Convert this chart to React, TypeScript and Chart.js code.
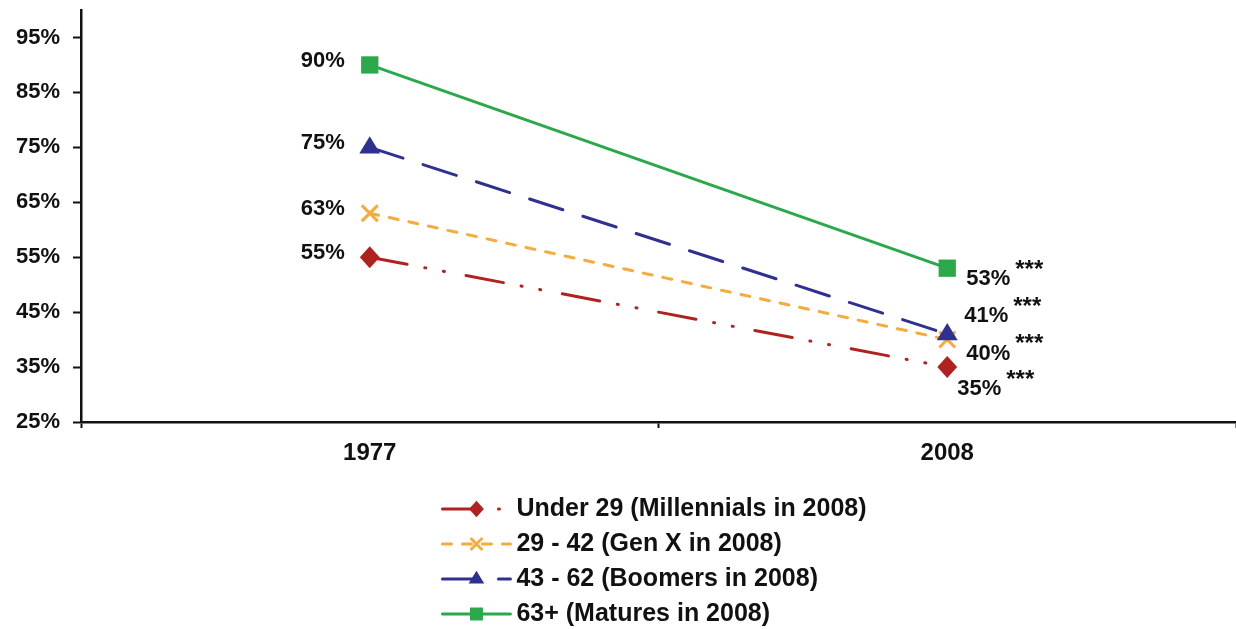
import React, { useEffect, useRef } from 'react';
import { Chart, registerables } from 'chart.js';

Chart.register(...registerables);

// ---- data ----
const categories = ['1977', '2008'];
const under29 = [55, 35];
const genX = [63, 40];
const boomers = [75, 41];
const matures = [90, 53];
const seriesNames = [
  'Under 29 (Millennials in 2008)',
  '29 - 42 (Gen X in 2008)',
  '43 - 62 (Boomers in 2008)',
  '63+ (Matures in 2008)',
];
const yTicks = [25, 35, 45, 55, 65, 75, 85, 95];
const yMin = 25;
const yMax = 100;
const significanceMark = '***';

// ---- styles ----
const FONT = "'Liberation Sans', Arial, Helvetica, sans-serif";
const colors = ['#B0221F', '#F5AC3C', '#2E3192', '#2BA84A'];
const dashes = [[38, 18, 1, 18, 1, 22], [9, 11], [35, 21], []];
const markers = ['diamond', 'x', 'triangle', 'square'];
const markerRadius = [11, 11, 11, 12];
// label offsets for the 2008 labels (dx, dy)
const endLabelOffset = [[10, 22], [19, 14], [17, -18], [19, 11]];

function drawMarker(ctx: CanvasRenderingContext2D, kind: string, x: number, y: number, r: number, color: string) {
  ctx.save();
  ctx.setLineDash([]);
  ctx.fillStyle = color;
  ctx.strokeStyle = color;
  ctx.beginPath();
  if (kind === 'diamond') {
    ctx.moveTo(x, y - r);
    ctx.lineTo(x + r * 0.9, y);
    ctx.lineTo(x, y + r);
    ctx.lineTo(x - r * 0.9, y);
    ctx.closePath();
    ctx.fill();
  } else if (kind === 'square') {
    const s = r * 0.72;
    ctx.rect(x - s, y - s, 2 * s, 2 * s);
    ctx.fill();
  } else if (kind === 'triangle') {
    ctx.moveTo(x, y - r);
    ctx.lineTo(x + r * 0.95, y + r * 0.55);
    ctx.lineTo(x - r * 0.95, y + r * 0.55);
    ctx.closePath();
    ctx.fill();
  } else {
    const s = r * 0.72;
    ctx.lineWidth = 3;
    ctx.moveTo(x - s, y - s);
    ctx.lineTo(x + s, y + s);
    ctx.moveTo(x + s, y - s);
    ctx.lineTo(x - s, y + s);
    ctx.stroke();
  }
  ctx.restore();
}

const markerPlugin = {
  id: 'customMarkers',
  afterDatasetsDraw(chart: any) {
    const ctx = chart.ctx;
    chart.data.datasets.forEach((ds: any, i: number) => {
      const meta = chart.getDatasetMeta(i);
      meta.data.forEach((pt: any) => {
        drawMarker(ctx, markers[i], pt.x, pt.y, markerRadius[i], colors[i]);
      });
    });
  },
};

const labelPlugin = {
  id: 'valueLabels',
  afterDatasetsDraw(chart: any) {
    const ctx = chart.ctx;
    ctx.save();
    ctx.fillStyle = '#111';
    chart.data.datasets.forEach((ds: any, i: number) => {
      const meta = chart.getDatasetMeta(i);
      meta.data.forEach((pt: any, j: number) => {
        const txt = ds.data[j] + '%';
        ctx.font = `bold 22px ${FONT}`;
        ctx.textBaseline = 'middle';
        if (j === 0) {
          ctx.textAlign = 'right';
          ctx.fillText(txt, pt.x - 25, pt.y - 4);
        } else {
          const [dx, dy] = endLabelOffset[i];
          ctx.textAlign = 'left';
          const x = pt.x + dx;
          const y = pt.y + dy;
          ctx.fillText(txt, x, y);
          const w = ctx.measureText(txt).width;
          ctx.font = `bold 24px ${FONT}`;
          ctx.fillText(significanceMark, x + w + 5, y - 9);
        }
      });
    });
    ctx.restore();
  },
};

const legendPlugin = {
  id: 'verticalLegend',
  afterDraw(chart: any) {
    const ctx = chart.ctx;
    const area = chart.chartArea;
    ctx.save();
    ctx.font = `bold 25px ${FONT}`;
    const sampleW = 68;
    const gap = 6;
    let maxW = 0;
    seriesNames.forEach((n) => { maxW = Math.max(maxW, ctx.measureText(n).width); });
    const blockW = sampleW + gap + maxW;
    const x0 = (area.left + area.right) / 2 - blockW / 2 - 4;
    const y0 = area.bottom + 87;
    const rowH = 35;
    seriesNames.forEach((name, i) => {
      const y = y0 + i * rowH;
      ctx.save();
      ctx.strokeStyle = colors[i];
      ctx.lineWidth = 3;
      ctx.lineCap = 'round';
      ctx.setLineDash(dashes[i]);
      ctx.beginPath();
      ctx.moveTo(x0, y);
      ctx.lineTo(x0 + sampleW, y);
      ctx.stroke();
      ctx.restore();
      drawMarker(ctx, markers[i], x0 + sampleW / 2, y, markerRadius[i] * 0.75, colors[i]);
      ctx.fillStyle = '#111';
      ctx.textAlign = 'left';
      ctx.textBaseline = 'middle';
      ctx.fillText(name, x0 + sampleW + gap, y);
    });
    ctx.restore();
  },
};

export default function App() {
  const ref = useRef<HTMLCanvasElement | null>(null);

  useEffect(() => {
    if (!ref.current) return;
    const seriesData = [under29, genX, boomers, matures];
    const chart = new Chart(ref.current, {
      type: 'line',
      data: {
        labels: categories,
        datasets: seriesData.map((d, i) => ({
          label: seriesNames[i],
          data: d,
          borderColor: colors[i],
          backgroundColor: colors[i],
          borderWidth: 3,
          borderDash: dashes[i],
          borderCapStyle: 'round' as const,
          pointRadius: 0,
          pointHoverRadius: 0,
          tension: 0,
          fill: false,
        })),
      },
      options: {
        responsive: false,
        animation: false,
        events: [],
        layout: { padding: { left: 0, right: 0, top: 10, bottom: 157 } },
        plugins: {
          legend: { display: false },
          tooltip: { enabled: false },
          title: { display: false },
        },
        scales: {
          x: {
            type: 'category',
            offset: true,
            grid: {
              offset: true,
              drawOnChartArea: false,
              drawTicks: true,
              tickLength: 6,
              tickColor: '#111',
              tickWidth: 2,
            },
            border: { display: true, color: '#111', width: 2.5 },
            ticks: {
              color: '#111',
              padding: 11,
              font: { family: FONT, size: 24, weight: 'bold' },
            },
            afterFit: (s: any) => { s.height = 50; s.paddingLeft = 0; s.paddingRight = 0; },
          },
          y: {
            type: 'linear',
            min: yMin,
            max: yMax,
            afterBuildTicks: (s: any) => { s.ticks = yTicks.map((v) => ({ value: v })); },
            grid: {
              drawOnChartArea: false,
              drawTicks: true,
              tickLength: 8,
              tickColor: '#111',
              tickWidth: 2,
            },
            border: { display: true, color: '#111', width: 2.5 },
            ticks: {
              color: '#111',
              padding: 13,
              font: { family: FONT, size: 22, weight: 'bold' },
              callback: (v: any) => v + '%',
            },
            afterFit: (s: any) => { s.width = 81; s.paddingTop = 0; s.paddingBottom = 0; },
          },
        },
      },
      plugins: [markerPlugin, labelPlugin, legendPlugin],
    });
    return () => chart.destroy();
  }, []);

  return (
    <div style={{ position: 'fixed', left: 0, top: 0, width: 1236, height: 629, background: '#fff' }}>
      <canvas ref={ref} width={1236} height={629} style={{ display: 'block' }} />
    </div>
  );
}
